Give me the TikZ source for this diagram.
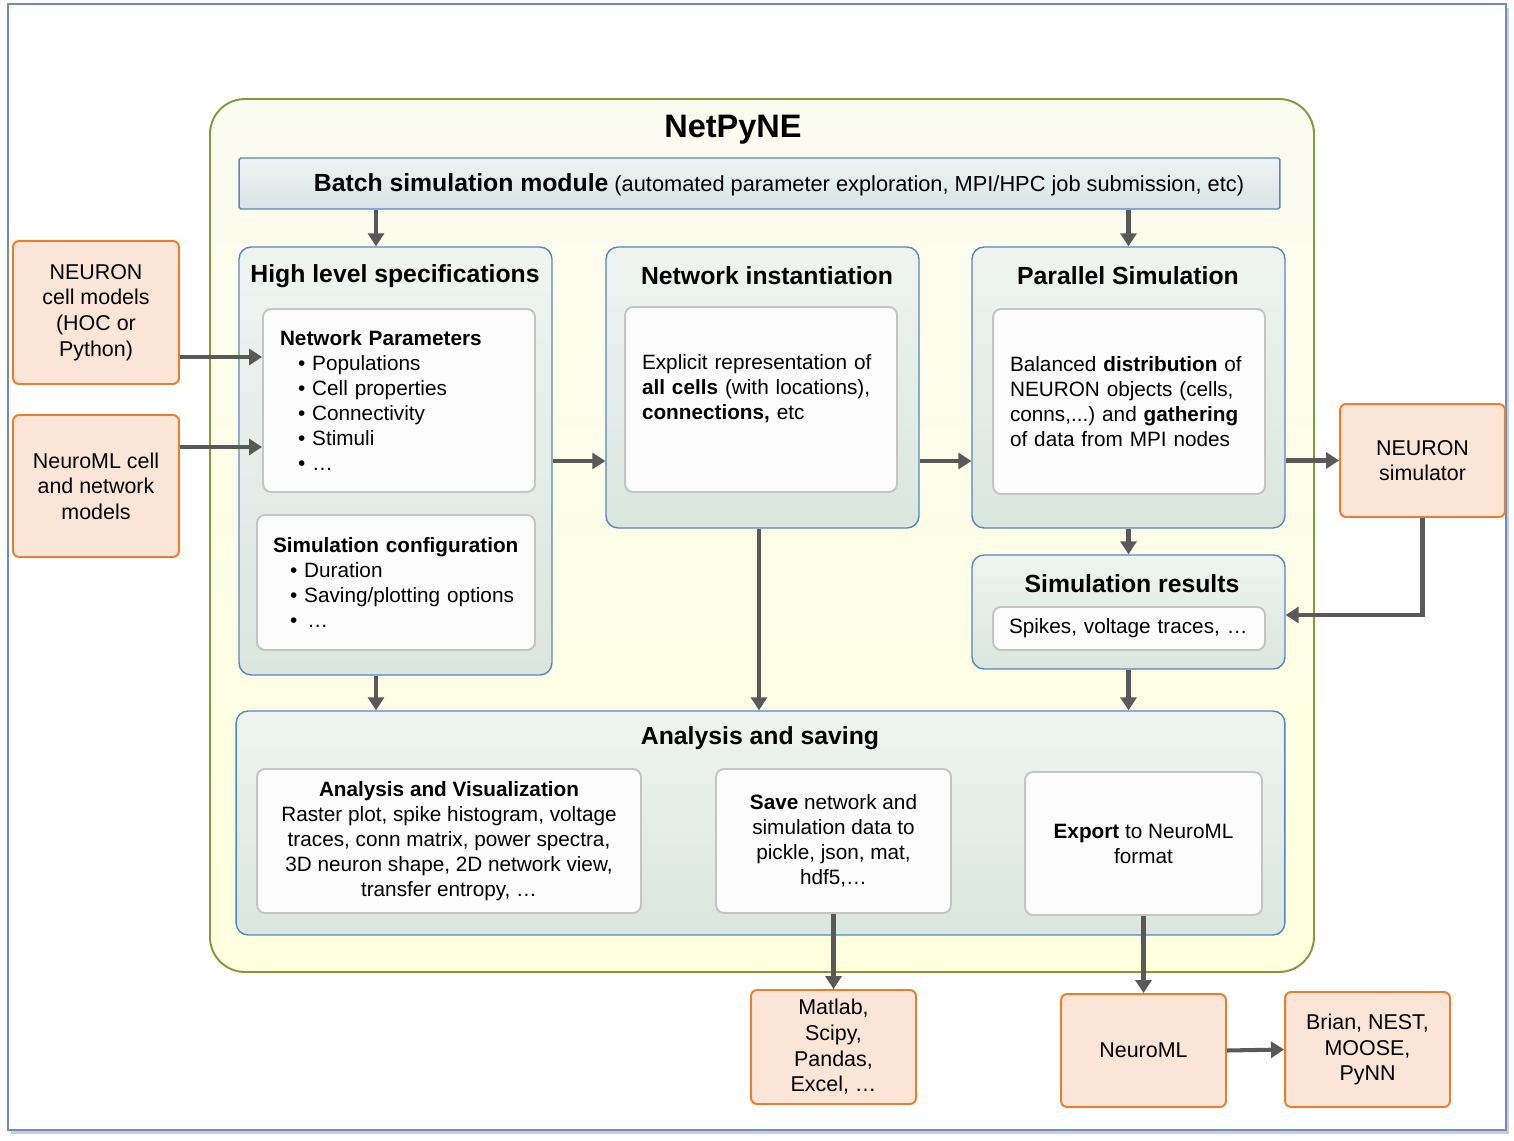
\documentclass[tikz,border=0pt]{standalone}
\usepackage{fontspec}
\setmainfont{Liberation Sans}
\usetikzlibrary{arrows.meta,calc}

\definecolor{cadre}{RGB}{108,142,191}
\definecolor{ombre}{RGB}{205,205,205}
\definecolor{vertcadre}{RGB}{128,154,62}
\definecolor{jaunehaut}{RGB}{251,252,240}
\definecolor{jaunebas}{RGB}{255,255,222}
\definecolor{bleusec}{RGB}{84,134,196}
\definecolor{sechaut}{RGB}{239,244,241}
\definecolor{secbas}{RGB}{218,230,222}
\definecolor{batchhaut}{RGB}{238,243,243}
\definecolor{batchbas}{RGB}{217,228,229}
\definecolor{grisboite}{RGB}{196,196,196}
\definecolor{blancboite}{RGB}{252,252,252}
\definecolor{orangefond}{RGB}{250,229,214}
\definecolor{orangebord}{RGB}{237,125,42}
\definecolor{fleche}{RGB}{89,89,89}

\newcommand{\txtcorps}{\fontsize{11.8}{14.2}\selectfont}
\newcommand{\txtorange}{\fontsize{12.2}{14.6}\selectfont}
\newcommand{\txttitre}{\fontsize{14.1}{17}\selectfont\bfseries}
\newcommand{\txtbatch}{\fontsize{12.4}{15}\selectfont}
\newcommand{\txtnetpyne}{\fontsize{18.5}{22}\selectfont\bfseries}

\begin{document}
\begin{tikzpicture}[x=0.02cm, y=-0.02cm,
    section/.style={draw=bleusec, line width=0.8pt, rounded corners=0.24cm, top color=sechaut, bottom color=secbas, inner sep=0pt},
    batchbox/.style={draw=bleusec, line width=0.8pt, rounded corners=1pt, top color=batchhaut, bottom color=batchbas, inner sep=0pt},
    boite/.style={draw=grisboite, line width=1.1pt, rounded corners=0.16cm, fill=blancboite, font=\txtcorps, inner sep=0pt},
    boitegauche/.style={boite, align=left, inner xsep=0.34cm},
    boitecentre/.style={boite, align=center},
    externe/.style={draw=orangebord, line width=1.1pt, rounded corners=0.12cm, fill=orangefond, align=center, font=\txtorange, inner sep=0pt, minimum width=3.3cm},
    titre/.style={font=\txttitre, inner sep=0pt},
    fl/.style={draw=fleche, line width=2.3pt, -{Triangle[length=0.26cm,width=0.32cm]}}]

        \useasboundingbox (0,0) rectangle (1514,1141);

        %% cadre general
        \fill[ombre] (11,8) rectangle (1509,1134);
        \draw[cadre, line width=1.1pt, fill=white] (8,4) rectangle (1506,1130);

        %% NetPyNE
        \draw[vertcadre, line width=1.1pt, rounded corners=0.7cm, top color=jaunehaut, bottom color=jaunebas] (210,99) rectangle (1314,972);
        \node[font=\txtnetpyne, inner sep=0pt] (netpyne) at (733,130) {NetPyNE};

        %% batch
        \node[batchbox, minimum width=20.82cm, minimum height=1.02cm] (batch) at (759.5,183.5) {};
        \node[font=\txtbatch, inner sep=0pt] (batchtexte) at (779,185) {{\txttitre Batch simulation module} (automated parameter exploration, MPI/HPC job submission, etc)};

        %% sections
        \node[section, minimum width=6.26cm, minimum height=8.56cm] (hls) at (395.5,461) {};
        \node[section, minimum width=6.26cm, minimum height=5.62cm] (netinst) at (762.5,387.5) {};
        \node[section, minimum width=6.26cm, minimum height=5.62cm] (parsim) at (1128.5,387.5) {};
        \node[section, minimum width=6.26cm, minimum height=2.28cm] (simres) at (1128.5,612) {};
        \node[section, minimum width=20.98cm, minimum height=4.48cm] (analyse) at (760.5,823) {};

        \node[titre] (hlstitre) at (395,276) {High level specifications};
        \node[titre] (netinsttitre) at (767,276) {Network instantiation};
        \node[titre] (parsimtitre) at (1128,276) {Parallel Simulation};
        \node[titre] (simrestitre) at (1132,584) {Simulation results};
        \node[titre] (analysetitre) at (760,738) {Analysis and saving};

        %% contenus
        \node[boitegauche, text width=4.76cm, minimum width=5.44cm, minimum height=3.66cm] (netpar) at (399,400.5) {\textbf{Network Parameters}\\
            \hspace*{0.36cm}• Populations\\
            \hspace*{0.36cm}• Cell properties\\
            \hspace*{0.36cm}• Connectivity\\
            \hspace*{0.36cm}• Stimuli\\
            \hspace*{0.36cm}• …};
        \node[boitegauche, inner xsep=0.32cm, text width=4.92cm, minimum width=5.56cm, minimum height=2.7cm] (simcfg) at (396,582.5) {\textbf{Simulation configuration}\\
            \hspace*{0.34cm}• Duration\\
            \hspace*{0.34cm}• Saving/plotting options\\
            \hspace*{0.34cm}•\hspace{0.2cm}…};
        \node[boitegauche, text width=4.76cm, minimum width=5.44cm, minimum height=3.7cm] (netinstin) at (761,399.5) {Explicit representation of\\
            \textbf{all cells} (with locations),\\
            \textbf{connections,} etc\\\mbox{}};
        \node[boitegauche, text width=4.76cm, minimum width=5.44cm, minimum height=3.7cm] (parsimin) at (1129,401.5) {Balanced \textbf{distribution} of\\
            NEURON objects (cells,\\
            conns,...)\ and \textbf{gathering}\\
            of data from MPI nodes};
        \node[boitegauche, inner xsep=0.32cm, text width=4.8cm, minimum width=5.44cm, minimum height=0.86cm] (simresin) at (1129,628.5) {Spikes, voltage traces, …};

        \node[boitecentre, minimum width=7.68cm, minimum height=2.88cm] (anaviz) at (449,841) {\textbf{Analysis and Visualization}\\
            Raster plot, spike histogram, voltage\\
            traces, conn matrix, power spectra,\\
            3D neuron shape, 2D network view,\\
            transfer entropy, …};
        \node[boitecentre, minimum width=4.7cm, minimum height=2.88cm] (save) at (833.5,841) {\textbf{Save} network and\\
            simulation data to\\
            pickle, json, mat,\\
            hdf5,…};
        \node[boitecentre, minimum width=4.74cm, minimum height=2.86cm] (export) at (1143.5,843.5) {\textbf{Export} to NeuroML\\ format};

        %% boites externes
        \node[externe, minimum width=3.32cm, minimum height=2.86cm] (neuroncell) at (96,312.5) {NEURON\\ cell models\\ (HOC or\\ Python)};
        \node[externe, minimum width=3.32cm, minimum height=2.84cm] (neuromlin) at (96,486) {NeuroML cell\\ and network\\ models};
        \node[externe, minimum height=2.26cm] (neuronsim) at (1422.5,460.5) {NEURON\\ simulator};
        \node[externe, minimum height=2.28cm] (matlab) at (833.5,1047) {Matlab,\\ Scipy,\\ Pandas,\\ Excel, …};
        \node[externe, minimum height=2.26cm] (neuroml) at (1143.5,1050.5) {NeuroML};
        \node[externe, minimum height=2.3cm] (brian) at (1367.5,1049.5) {Brian, NEST,\\ MOOSE,\\ PyNN};

        %% fleches
        \coordinate (hlshaut) at ([xshift=-0.39cm]hls.north);
        \coordinate (hlsbas) at ([xshift=-0.39cm]hls.south);
        \coordinate (netinstbas) at ([xshift=-0.07cm]netinst.south);
        \coordinate (entreeneuron) at ([yshift=-0.89cm]neuroncell.east);
        \coordinate (entreeneuroml) at ([yshift=0.78cm]neuromlin.east);
        \coordinate (retour) at ([yshift=-0.06cm]simres.east);

        \draw[fl] (hlshaut |- batch.south) -- (hlshaut);
        \draw[fl] (parsim.north |- batch.south) -- (parsim.north);
        \draw[fl] (entreeneuron) -- (entreeneuron -| netpar.west);
        \draw[fl] (entreeneuroml) -- (entreeneuroml -| netpar.west);
        \draw[fl] (hls.east) -- (hls.east -| netinst.west);
        \draw[fl] (hls.east -| netinst.east) -- (hls.east -| parsim.west);
        \draw[fl] (neuronsim.west -| parsim.east) -- (neuronsim.west);
        \draw[fl] (parsim.south) -- (simres.north);
        \draw[fl] (neuronsim.south) |- (retour);
        \draw[fl] (hlsbas) -- (hlsbas |- analyse.north);
        \draw[fl] (netinstbas) -- (netinstbas |- analyse.north);
        \draw[fl] (simres.south) -- (simres.south |- analyse.north);
        \draw[fl] (save.south) -- (matlab.north);
        \draw[fl] (export.south) -- (neuroml.north);
        \draw[fl] (neuroml.east) -- (brian.west);

    \end{tikzpicture}
\end{document}
